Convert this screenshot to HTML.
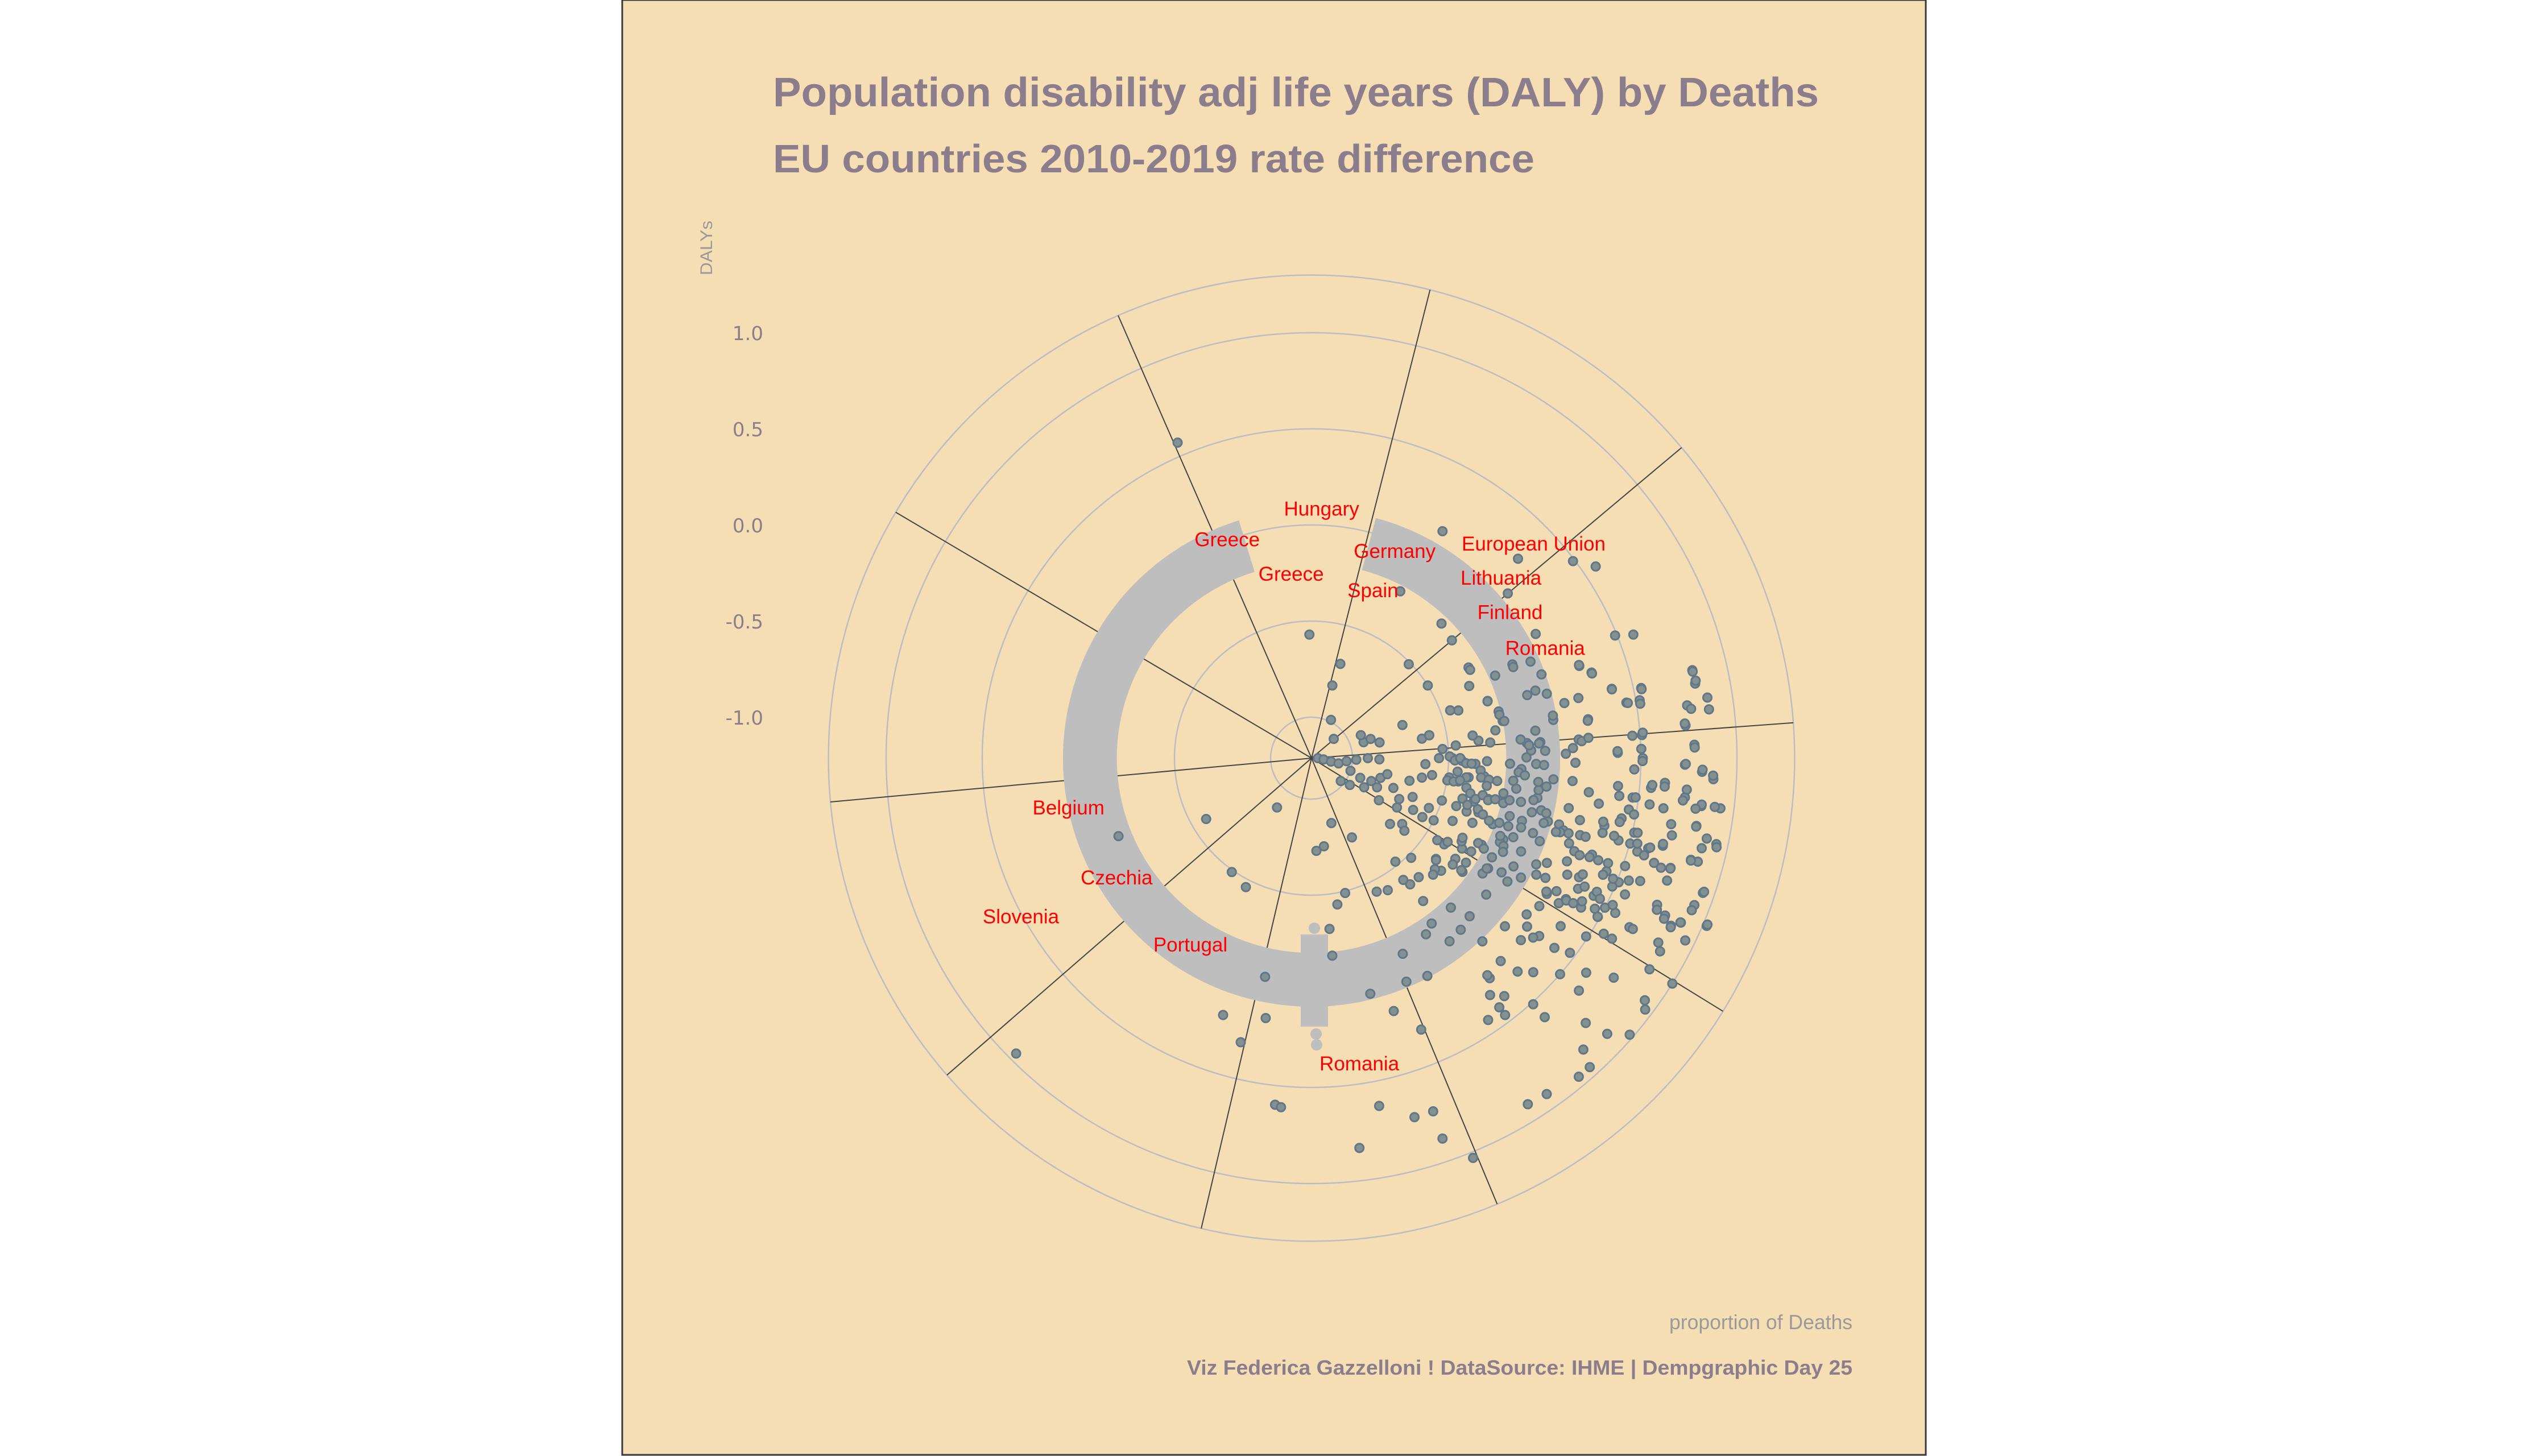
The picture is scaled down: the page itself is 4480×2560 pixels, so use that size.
<!DOCTYPE html>
<html><head><meta charset="utf-8">
<style>
html,body{margin:0;padding:0;background:#fff;}
svg{display:block;}
</style></head>
<body>
<svg id="chart" width="4480" height="2560" viewBox="0 0 4480 2560" xmlns="http://www.w3.org/2000/svg">
<rect x="1094" y="0" width="2292" height="2558" fill="#f5deb3" stroke="#3a3a3a" stroke-width="3"/>
<text x="1359" y="187" font-family="Liberation Sans, sans-serif" font-weight="bold" font-size="72" fill="#8b7d8b" textLength="1839" lengthAdjust="spacingAndGlyphs">Population disability adj life years (DALY) by Deaths</text>
<text x="1359" y="303" font-family="Liberation Sans, sans-serif" font-weight="bold" font-size="70" fill="#8b7d8b" textLength="1339" lengthAdjust="spacingAndGlyphs">EU countries 2010-2019 rate difference</text>
<text transform="translate(1252,484) rotate(-90)" font-family="Liberation Sans, sans-serif" font-size="30" fill="#999" textLength="96" lengthAdjust="spacingAndGlyphs">DALYs</text>
<text x="3257" y="2337" text-anchor="end" font-family="Liberation Sans, sans-serif" font-size="36" fill="#9a9a9a" textLength="322" lengthAdjust="spacingAndGlyphs">proportion of Deaths</text>
<text x="3257" y="2417" text-anchor="end" font-family="Liberation Sans, sans-serif" font-weight="bold" font-size="36" fill="#8b7d8b" textLength="1170" lengthAdjust="spacingAndGlyphs">Viz Federica Gazzelloni ! DataSource: IHME | Dempgraphic Day 25</text>
<g id="grid"></g>
<g id="spokes"></g>
<g id="band"></g>
<g id="points"></g>
<g id="labels"></g>
<g id="yticks"></g>
</svg>
<script>
// ---- data ----
const yTicks = [-1.0, -0.5, 0.0, 0.5, 1.0];
const yTickLabels = ["-1.0", "-0.5", "0.0", "0.5", "1.0"];
const outerLimit = 1.3;
const spokeAngles = [14.2, 50.0, 85.8, 121.6, 157.4, 193.2, 229.0, 264.8, 300.6, 336.4];
const bandStart = 15;
const bandEnd = 343;
const bandValue = -0.06;
const bandWidthValue = 0.28;
// points: azimuth (deg clockwise from top, proportion*360) and DALY value
const ptAz = [337,30,359,46,53,56,50,28,44,50,61,68,69,71,73,77,79,82,85,83,78,80,77,80,82,86,86,89,90,88,91,92,93,
94,95,97,96,97,97,100,102,103,105,104,105,106,107,107,109,111,114,114,113,115,116,113,122,122,126,127,131,118,119,
133,134,137,138,140,145,148,126,131,128,138,138,143,146,143,143,141,141,134,131,127,121,123,121,117,117,118,118,
105,106,103,101,103,105,109,112,114,111,112,116,119,120,123,119,119,124,128,131,126,128,
89,91,95,95,97,101,99,97,106,103,
60,72,65,76,79,71,72,58,46,70,81,83,86,
90,96,100,101,95,92,90,91,108,112,111,106,102,114,119,125,128,110,115,111,103,100,98,93,90,90,91,92,91,84,85,85,86,80,79,70,73,72,77,65,49,27,
98,99,97,96,97,102,103,105,105,108,113,117,120,122,130,126,118,117,114,109,108,110,113,117,121,129,135,141,128,123,119,117,114,121,124,127,131,142,138,132,125,122,114,110,105,100,98,93,88,86,
166,154,150,143,142,137,135,144,147,143,139,137,128,155,152,157,166,162,158,174,174,170,153,172,177,163,
173,169,164,161,161,158,137,136,129,128,141,131,
192,190,199,194,186,185,225,240,215,215,207,248,16,17,
60.9,65.4,72.1,71,65.8,65.7,66.2,73.2,74.7,80,77,81.4,82,79,70.8,73.2,77.3,77.7,77.1,78.2,80.1,80.6,82.3,77.2,78.6,81.3,82.6,84.7,86,85.6,88.7,87.8,86.4,85.8,88.4,90.5,92,88.4,90.9,91.7,92.5,94.8,96.5,96.9,96.8,97.5,98.1,97.8,94.5,94.6,95.2,96.9,99.2,99.9,101.7,102.3,104.4,104.4,102.9,100.4,102.1,100.1,101.5,105,102.4,105.1,103.7,104.8,106.3,105,104.7,
106.6,106.3,106.8,106,108.3,109.5,109.9,109.6,109.6,109.5,109,107.4,107.1,109,110.5,111.1,114.5,113.2,116.1,115.2,115.1,116,113.1,111.8,111.8,119.6,118.5,120.4,119.2,119,117.9,118,119,116,113.5,113.7,114.5,115.2,114,111.8,112.8,108.8,
89.3,90.9,90,91.9,92,94.2,96.5,96.9,99,97.1,95.3,99.3,99.3,98.5,100.8,102.5,104,102.2,103.4,102.6,108.3,106.7,107.1,108.2,109.4,111.9,117.8,121.6,123.1,129.3,127,124.1,120.3,117.7,118.8,122.2,126.8,133.8,
73.7,79.1,84.9,86.6,86.3,88.2,89.8,91.6,93.9,94.6,91.5,91.7,96,96.9,96.4,98.5,100.4,103.2,102,101.8,100.7,103.8,102.8,103.2,106.3,106.6,105.6,109,109.1,108.3,108.7,112.4,111.4,114.6,116.1,118.2,122.2,119.7,115.3,114,117.1,117.4];
const ptVal = [0.57,0.15,-0.57,0.28,0.49,0.57,0.12,-0.23,-0.24,-0.26,0.12,0.49,0.58,0.26,0.31,0.82,0.82,0.76,0.74,0.87,0.54,0.52,0.39,0.45,0.24,0.18,0.51,0.38,0.51,0.78,0.73,0.82,0.88,
0.63,0.56,0.47,0.74,0.83,0.93,0.82,0.94,0.87,0.83,0.67,0.60,0.55,0.65,0.74,0.94,0.92,0.89,0.80,0.74,0.85,0.95,1.02,1.00,0.86,0.93,0.96,0.98,0.83,0.86,
0.89,0.77,0.86,0.95,0.95,0.92,0.91,0.73,0.63,0.60,0.60,0.51,0.46,0.43,0.41,0.33,0.38,0.26,0.39,0.50,0.47,0.56,0.49,0.61,0.56,0.50,0.66,0.68,
0.12,0.24,0.35,0.43,0.51,0.44,0.33,0.22,0.31,0.43,0.51,0.42,0.30,0.20,0.20,0.39,0.49,0.35,0.29,0.23,0.17,0.39,
0.11,0.16,0.05,0.15,0.24,0.15,0.30,0.40,0.15,0.22,
-0.27,-0.25,-0.06,-0.21,-0.20,-0.45,-0.41,-0.50,-0.51,0.06,0.06,-0.04,-0.09,
-1.18,-1.15,-1.11,-1.07,-1.03,-0.98,-0.92,-0.86,-1.00,-0.94,-0.88,-0.84,-0.81,-0.84,-0.90,-0.97,-1.02,-0.76,-0.71,-0.65,-0.69,-0.63,-0.58,-0.62,-0.55,-0.48,-0.43,-0.36,-0.30,-0.34,-0.28,-0.46,-0.53,-0.63,-0.59,-0.71,-0.93,-0.89,-0.85,-0.93,-1.06,-0.99,
-0.49,-0.44,-0.39,-0.31,-0.24,-0.19,-0.27,-0.34,-0.40,-0.50,-0.55,-0.62,-0.70,-0.80,-0.68,-0.63,-0.56,-0.50,-0.41,-0.36,-0.30,-0.21,-0.13,-0.22,-0.30,-0.38,-0.48,-0.52,-0.60,-0.39,-0.32,-0.24,-0.14,-0.06,-0.14,-0.23,-0.32,-0.38,-0.38,-0.35,-0.30,-0.13,-0.02,0.05,0.06,-0.02,-0.02,-0.12,-0.07,-0.02,
-0.49,-0.44,-0.42,-0.42,-0.27,-0.15,-0.05,-0.15,-0.12,-0.02,-0.03,0.09,-0.06,-0.09,0.07,0.05,0.05,0.17,0.31,-0.18,-0.32,-0.44,-0.75,-0.75,-0.73,-0.86,
0.83,0.63,0.73,0.73,0.88,1.03,0.23,0.33,0.27,0.21,0.24,0.12,
-0.05,0.16,0.20,0.31,0.60,0.61,0.96,-0.58,-0.90,-0.49,-0.46,-0.13,-0.82,-0.70,
-0.269,-0.311,-0.251,-0.45,-0.166,-0.062,0.032,0.003,0.056,0.062,-0.21,-0.246,-0.367,-0.589,0.26,0.311,0.21,0.133,0.39,0.541,0.457,0.52,0.237,0.82,0.825,0.87,0.778,0.737,0.46,0.515,0.379,0.148,0.195,0.231,0.503,0.509,0.467,0.781,0.734,0.822,0.878,0.746,0.731,0.9,0.831,0.802,0.636,0.562,0.565,0.63,0.388,0.485,0.459,0.49,0.424,0.34,0.35,0.412,0.527,0.689,0.704,0.819,0.885,0.867,0.944,0.831,0.669,0.609,0.589,0.503,0.539,
0.136,0.18,0.115,0.27,0.198,0.237,0.27,0.322,0.37,0.423,0.512,0.692,0.74,0.743,0.612,0.556,0.249,0.322,0.331,0.357,0.426,0.456,0.488,0.42,0.476,0.192,0.237,0.278,0.305,0.343,0.379,0.456,0.488,0.53,0.565,0.749,0.802,0.852,0.888,0.917,1.021,0.944,
-0.494,-0.467,-0.44,-0.408,-0.38,-0.331,-0.325,-0.284,-0.29,-0.402,-0.45,-0.497,-0.464,-0.432,-0.393,-0.367,-0.334,-0.302,-0.269,-0.234,-0.42,-0.367,-0.308,-0.275,-0.234,-0.311,-0.325,-0.382,-0.432,-0.376,-0.293,-0.243,-0.251,-0.201,-0.142,-0.136,-0.24,-0.337,
-0.044,-0.192,-0.121,-0.08,-0.027,0.003,-0.095,-0.18,-0.133,-0.1,-0.044,-0.003,-0.027,0.018,-0.157,-0.136,-0.198,-0.189,-0.16,-0.1,-0.038,-0.033,0.012,0.041,-0.139,-0.071,0.041,-0.18,-0.13,-0.065,0.003,-0.151,-0.086,-0.115,-0.104,-0.021,-0.009,0.041,0.08,0.127,0.154,0.104];
const labelNames = ["Hungary","Greece","Greece","Germany","Spain","European Union","Lithuania","Finland","Romania","Belgium","Czechia","Slovenia","Portugal","Romania"];
const labelAz = [2.3,338.9,353.7,21.9,20.1,46.0,46.4,53.7,64.8,258.5,238.5,241.4,213.0,171.1];
const labelVal = [0.086,0.006,-0.249,-0.053,-0.284,0.393,0.148,0.068,0.13,0.077,-0.024,0.509,-0.056,0.395];

// ---- scales ----
const cx = 2306, cy = 1333;
function rScale(v){ return 72 + (v + 1) * 338; }
function polar(az, v){
  const a = az * Math.PI / 180, r = rScale(v);
  return [cx + r * Math.sin(a), cy - r * Math.cos(a)];
}
const NS = "http://www.w3.org/2000/svg";
function mk(tag, parent){ const e = document.createElementNS(NS, tag); document.getElementById(parent).appendChild(e); return e; }

yTicks.concat([outerLimit]).forEach((v) => {
  const c = mk("circle", "grid");
  
  
  c.setAttribute("cx", cx); c.setAttribute("cy", cy); c.setAttribute("r", rScale(v));
  c.setAttribute("fill", "none"); c.setAttribute("stroke", "#bcbcc4"); c.setAttribute("stroke-width", "2.5");
});
spokeAngles.forEach(az => {
  const p = polar(az, outerLimit);
  const l = mk("line", "spokes");
  
  
  l.setAttribute("x1", cx); l.setAttribute("y1", cy); l.setAttribute("x2", p[0]); l.setAttribute("y2", p[1]);
  l.setAttribute("stroke", "#444"); l.setAttribute("stroke-width", "2");
});
(function(){
  const r = rScale(bandValue);
  const p1 = polar(bandStart, bandValue), p2 = polar(bandEnd, bandValue);
  const large = (bandEnd - bandStart) > 180 ? 1 : 0;
  const path = mk("path", "band");
  
  
  path.setAttribute("d", `M${p1[0]},${p1[1]} A${r},${r} 0 ${large} 1 ${p2[0]},${p2[1]}`);
  path.setAttribute("fill", "none"); path.setAttribute("stroke", "#bebebe");
  path.setAttribute("stroke-width", bandWidthValue * 338);
  const rect = mk("rect", "band");
  
  
  rect.setAttribute("x", 2287); rect.setAttribute("y", 1643); rect.setAttribute("width", 48); rect.setAttribute("height", 162);
  rect.setAttribute("fill", "#bebebe");
  [[2311,1632],[2314,1818],[2315,1837]].forEach(d => {
    const c = mk("circle", "band");
    
    
    c.setAttribute("cx", d[0]); c.setAttribute("cy", d[1]); c.setAttribute("r", 10); c.setAttribute("fill", "#bebebe");
  });
})();
ptAz.forEach((az, i) => {
  const p = polar(az, ptVal[i]);
  const c = mk("circle", "points");
  
  
  c.setAttribute("cx", p[0].toFixed(1)); c.setAttribute("cy", p[1].toFixed(1)); c.setAttribute("r", 7.5);
  c.setAttribute("fill", "#84918f"); c.setAttribute("stroke", "#60778a"); c.setAttribute("stroke-width", "3");
});
labelNames.forEach((n, i) => {
  const p = polar(labelAz[i], labelVal[i]);
  const t = mk("text", "labels");
  
  
  t.setAttribute("x", p[0].toFixed(1)); t.setAttribute("y", (p[1] + 12).toFixed(1));
  t.setAttribute("text-anchor", "middle"); t.setAttribute("font-family", "Liberation Sans, sans-serif");
  t.setAttribute("font-size", "35"); t.setAttribute("fill", "#ff0000");
  t.textContent = n;
});
yTicks.forEach((v, i) => {
  const t = mk("text", "yticks");
  
  
  t.setAttribute("x", 1342); t.setAttribute("y", (cy - rScale(v) + 13).toFixed(1));
  t.setAttribute("text-anchor", "end"); t.setAttribute("font-family", "DejaVu Sans, sans-serif");
  t.setAttribute("font-size", "34"); t.setAttribute("fill", "#8b7d8b");
  t.textContent = yTickLabels[i];
});
</script>
</body></html>
